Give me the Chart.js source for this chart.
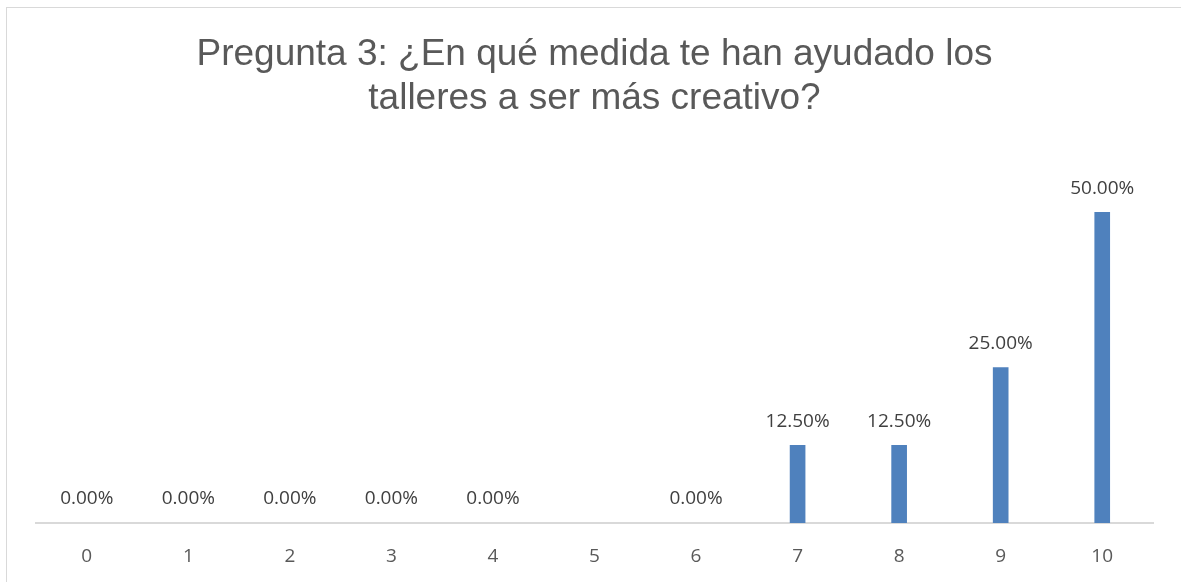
<!DOCTYPE html>
<html>
<head>
<meta charset="utf-8">
<script src="https://cdn.jsdelivr.net/npm/chart.js@4"></script>
<style>
  html, body { margin: 0; padding: 0; background: #fff; }
  #wrap { width: 1181px; height: 582px; position: relative; }
</style>
</head>
<body>
<div id="wrap"><canvas id="graph" width="1181" height="582"></canvas></div>
<script>
const categories = ["0", "1", "2", "3", "4", "5", "6", "7", "8", "9", "10"];
// porcentaje de respuestas (la 5 no tiene dato)
const percents = [0, 0, 0, 0, 0, null, 0, 12.5, 12.5, 25, 50];
const titleLines = ["Pregunta 3: ¿En qué medida te han ayudado los", "talleres a ser más creativo?"];

const graphRef = document.getElementById("graph");

// marco gris alrededor del grafico
const frame = {
  id: "frame",
  beforeDraw(chart) {
    const ctx = chart.ctx;
    ctx.save();
    ctx.fillStyle = "#fff";
    ctx.fillRect(0, 0, chart.width, chart.height);
    ctx.strokeStyle = "#d9d9d9";
    ctx.lineWidth = 1;
    ctx.strokeRect(6.5, 7.5, chart.width + 20, chart.height + 20);
    ctx.restore();
  },
};

// etiquetas de valor encima de cada barra
const valueLabels = {
  id: "valueLabels",
  afterDatasetsDraw(chart) {
    const ctx = chart.ctx;
    const meta = chart.getDatasetMeta(0);
    ctx.save();
    ctx.font = "19px 'Open Sans', 'Noto Sans', sans-serif";
    ctx.fillStyle = "#404040";
    ctx.textAlign = "center";
    ctx.textBaseline = "middle";
    meta.data.forEach((bar, i) => {
      const v = percents[i];
      if (v === null || v === undefined) return;
      ctx.fillText(v.toFixed(2) + "%", bar.x, bar.y - 24);
    });
    ctx.restore();
  },
};

const chart = new Chart(graphRef, {
  type: "bar",
  data: {
    labels: categories,
    datasets: [{
      label: "Pregunta 3",
      data: percents,
      backgroundColor: percents.map(v => (v ? "#4f81bd" : "rgba(0,0,0,0)")),
      borderWidth: 0,
      barThickness: 15,
    }],
  },
  options: {
    responsive: false,
    animation: false,
    layout: { padding: { left: 36, right: 28, top: 18, bottom: 0 } },
    plugins: {
      legend: { display: false },
      tooltip: { enabled: false },
      title: {
        display: true,
        text: titleLines,
        color: "#595959",
        font: { family: "'Liberation Sans', Arial, sans-serif", size: 37, weight: "normal", lineHeight: 1.19 },
        padding: { top: 15, bottom: 29 },
      },
    },
    scales: {
      x: {
        grid: { display: false, drawTicks: false },
        border: { color: "#d9d9d9", width: 2 },
        ticks: {
          color: "#595959",
          font: { family: "'Open Sans', 'Noto Sans', sans-serif", size: 19 },
          padding: 22,
        },
        afterFit(scale) {
          scale.height = 59;
        },
      },
      y: {
        display: false,
        min: 0,
        max: 60,
      },
    },
  },
  plugins: [frame, valueLabels],
});
</script>
</body>
</html>
